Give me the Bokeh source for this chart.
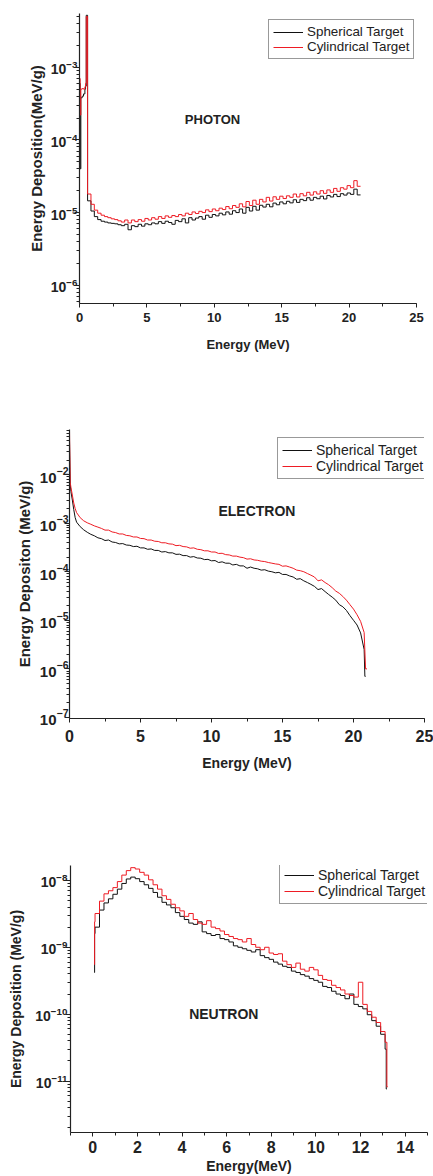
import numpy as np
from bokeh.plotting import figure
from bokeh.models import Range1d, SingleIntervalTicker, FixedTicker, LogTickFormatter, Label
from bokeh.embed import file_html
from bokeh.resources import INLINE

FONT = "Liberation Sans"
BLACK = "#111111"
RED = "#ee1c24"
SERIES = ["Spherical Target", "Cylindrical Target"]

# ---------------- PHOTON ----------------
ph_head_edges = [0.0, 0.05, 0.10, 0.20, 0.30, 0.40, 0.45, 0.50, 0.60]
ph_sph_head = [6.0e-4, 4.0e-5, 3.8e-4, 4.0e-4, 4.3e-4, 5.0e-4, 5.5e-4, 5.2e-3]
ph_cyl_head = [7.0e-4, 2.2e-4, 5.0e-4, 5.1e-4, 5.0e-4, 5.4e-4, 6.0e-4, 5.0e-3]
ph_grid_start, ph_grid_step = 0.60, 0.25
ph_sph_grid = [  # x1e-6
    14.5, 10.5, 8.8, 8.0, 7.6, 7.4, 7.2, 7.1, 7.0, 6.8,
    6.6, 6.9, 5.8, 6.6, 6.4, 6.9, 6.5, 7.0, 6.8, 7.2,
    7.0, 7.5, 7.1, 7.6, 7.3, 6.9, 7.8, 7.5, 8.2, 7.2,
    8.5, 7.9, 8.4, 8.8, 8.1, 9.2, 8.6, 9.4, 9.0, 9.8,
    9.3, 10.2, 9.5, 10.6, 10.0, 11.2, 9.8, 11.8, 10.5, 12.2,
    10.8, 12.6, 11.9, 13.0, 12.0, 13.5, 12.8, 14.0, 13.2, 14.3,
    13.6, 15.0, 13.8, 15.2, 14.6, 16.0, 14.8, 16.2, 15.5, 16.8,
    15.4, 17.2, 16.4, 17.8, 16.6, 18.2, 17.4, 18.6, 17.8, 21.0,
    17.5]
ph_cyl_grid = [  # x1e-6
    18.0, 13.0, 10.8, 9.8, 9.2, 8.8, 8.5, 8.2, 8.0, 7.7,
    7.4, 7.9, 7.2, 7.9, 7.5, 8.0, 7.6, 8.3, 7.9, 8.5,
    8.1, 8.8, 8.3, 9.0, 8.6, 9.1, 8.8, 9.4, 9.0, 9.8,
    9.4, 10.2, 9.7, 10.4, 10.0, 10.9, 10.3, 11.2, 10.6, 11.5,
    11.0, 12.1, 11.3, 12.5, 11.8, 13.2, 12.0, 14.2, 12.5, 14.8,
    13.0, 15.2, 14.0, 16.2, 14.4, 16.5, 15.2, 16.8, 15.6, 17.0,
    16.2, 18.0, 16.4, 18.2, 17.0, 19.0, 17.4, 19.3, 18.0, 20.0,
    18.4, 20.5, 19.0, 21.5, 19.6, 22.0, 21.0, 23.5, 22.0, 27.5,
    23.0]
ph_scale = 1e-6

# ---------------- ELECTRON ----------------
el_head_edges = [0.0, 0.05, 0.10, 0.20, 0.30, 0.40, 0.50]
el_sph_head = [5.0e-2, 6.5e-3, 4.5e-3, 3.0e-3, 1.9e-3, 1.3e-3]
el_cyl_head = [8.0e-2, 7.0e-3, 5.5e-3, 3.8e-3, 2.6e-3, 2.0e-3]
el_grid_start, el_grid_step = 0.50, 0.25
el_sph_grid = [  # x1e-4
    10.5, 8.5, 7.3, 6.5, 5.9, 5.5, 5.0, 4.8, 4.4, 4.5,
    4.1, 4.0, 3.75, 3.8, 3.55, 3.5, 3.3, 3.35, 3.1, 3.1,
    2.9, 2.95, 2.75, 2.75, 2.55, 2.6, 2.45, 2.45, 2.28, 2.3,
    2.15, 2.15, 2.0, 2.05, 1.92, 1.9, 1.78, 1.8, 1.68, 1.7,
    1.55, 1.6, 1.5, 1.5, 1.38, 1.42, 1.32, 1.32, 1.18, 1.25,
    1.18, 1.15, 1.08, 1.1, 1.03, 1.0, 0.95, 0.97, 0.88, 0.88,
    0.82, 0.78, 0.7, 0.72, 0.65, 0.6, 0.55, 0.5, 0.43, 0.45,
    0.39, 0.34, 0.30, 0.26, 0.21, 0.19, 0.16, 0.125, 0.10, 0.08,
    0.055]
el_cyl_grid = [  # x1e-4
    16.5, 13.0, 11.2, 10.2, 9.5, 8.8, 8.3, 7.8, 7.2, 7.2,
    6.6, 6.4, 6.0, 6.0, 5.6, 5.5, 5.2, 5.2, 4.85, 4.8,
    4.5, 4.5, 4.25, 4.2, 3.95, 3.95, 3.75, 3.7, 3.45, 3.5,
    3.3, 3.25, 3.05, 3.1, 2.9, 2.85, 2.7, 2.7, 2.55, 2.55,
    2.38, 2.4, 2.25, 2.22, 2.1, 2.1, 2.0, 1.95, 1.82, 1.85,
    1.75, 1.72, 1.65, 1.62, 1.55, 1.5, 1.45, 1.42, 1.3, 1.32,
    1.25, 1.18, 1.08, 1.05, 1.0, 0.92, 0.85, 0.78, 0.65, 0.68,
    0.6, 0.54, 0.47, 0.4, 0.36, 0.31, 0.26, 0.21, 0.17, 0.13,
    0.095]
el_scale = 1e-4
el_sph_tail_edges = [20.75, 20.80, 20.85]
el_sph_tail = [2.5e-6, 7.0e-7]
el_cyl_tail_edges = [20.75, 20.85, 20.95]
el_cyl_tail = [5.6e-6, 1.0e-6]

# ---------------- NEUTRON ----------------
ne_head_edges = [0.06, 0.08, 0.10]
ne_sph_head = [4.2e-10, 1.6e-9]
ne_cyl_head = [5.5e-10, 2.4e-9]
ne_grid_start, ne_grid_step = 0.10, 0.20
ne_sph_grid = [  # x1e-9
    2.0, 3.6, 4.6, 5.3, 6.2, 7.4, 9.0, 10.5, 11.2, 10.6,
    9.6, 8.6, 7.6, 6.6, 5.6, 4.7, 4.3, 3.9, 3.3, 2.9,
    2.6, 2.3, 2.2, 2.4, 1.7, 1.6, 1.5, 1.55, 1.35, 1.3,
    1.2, 1.05, 1.0, 0.95, 0.9, 0.85, 0.92, 0.75, 0.7, 0.66,
    0.6, 0.56, 0.52, 0.5, 0.44, 0.42, 0.39, 0.37, 0.34, 0.32,
    0.3, 0.26, 0.25, 0.22, 0.2, 0.19, 0.17, 0.2, 0.14, 0.13,
    0.12, 0.098, 0.08, 0.066, 0.05]
ne_cyl_grid = [  # x1e-9
    3.2, 4.9, 6.3, 7.0, 7.8, 9.6, 12.0, 14.0, 15.5, 14.8,
    13.2, 12.0, 10.2, 8.6, 7.4, 5.9, 5.2, 4.4, 3.9, 3.5,
    2.9, 3.2, 2.6, 2.3, 2.2, 2.5, 2.0, 1.9, 1.75, 1.55,
    1.45, 1.35, 1.3, 1.2, 1.35, 1.1, 1.0, 0.92, 1.0, 0.82,
    0.78, 0.8, 0.62, 0.55, 0.5, 0.58, 0.47, 0.44, 0.5, 0.46,
    0.38, 0.33, 0.32, 0.27, 0.25, 0.23, 0.2, 0.19, 0.18, 0.3,
    0.14, 0.11, 0.09, 0.075, 0.055]
ne_scale = 1e-9
ne_sph_tail_edges = [13.10, 13.15, 13.18]
ne_sph_tail = [3.0e-11, 7.6e-12]
ne_cyl_tail_edges = [13.10, 13.18, 13.22]
ne_cyl_tail = [3.8e-11, 8.2e-12]


def build(head_edges, head_vals, start, step, grid_vals, scale, tail_edges=None, tail_vals=None):
    lefts = list(head_edges[:-1])
    vals = list(head_vals)
    n = len(grid_vals)
    lefts += [start + step * i for i in range(n)]
    vals += [v * scale for v in grid_vals]
    right = start + step * n
    if tail_edges:
        lefts += list(tail_edges[:-1])
        vals += list(tail_vals)
        right = tail_edges[-1]
    xs = lefts + [right]
    ys = vals + [vals[-1]]
    return xs, ys


def log_ticks(lo_exp, hi_exp):
    major = [10.0 ** e for e in range(lo_exp, hi_exp + 1)]
    minor = [k * 10.0 ** e for e in range(lo_exp - 1, hi_exp + 1) for k in range(1, 10)]
    return major, minor


def make(cfg, series, draw="step"):
    p = figure(width=433, height=cfg["height"], output_backend="svg", toolbar_location=None,
               x_range=Range1d(*cfg["xr"]), y_range=Range1d(*cfg["yr"]), y_axis_type="log",
               min_border_left=cfg["b"][0], min_border_right=cfg["b"][1],
               min_border_top=cfg["b"][2], min_border_bottom=cfg["b"][3])
    p.xaxis.ticker = SingleIntervalTicker(interval=cfg["xint"], num_minor_ticks=2)
    major, minor = log_ticks(*cfg["yexp"])
    p.yaxis.ticker = FixedTicker(ticks=major, minor_ticks=minor)
    p.yaxis.formatter = LogTickFormatter()
    for ax in (p.xaxis[0], p.yaxis[0]):
        ax.axis_line_color = "#222222"
        ax.axis_line_width = 1.2
        ax.major_tick_line_color = "#222222"
        ax.minor_tick_line_color = "#222222"
        ax.major_tick_in = 0
        ax.major_tick_out = 5
        ax.minor_tick_in = 0
        ax.minor_tick_out = 3
        ax.major_label_text_font = FONT
        ax.major_label_text_font_style = "bold"
        ax.major_label_text_color = "#222222"
        ax.axis_label_text_font = FONT
        ax.axis_label_text_font_style = "bold"
        ax.axis_label_text_color = "#222222"
    p.xaxis.major_tick_out = 4
    p.xaxis.major_label_text_font_size = cfg["xfs"]
    p.yaxis.major_label_text_font_size = cfg["yfs"]
    p.xaxis.axis_label_text_font_size = cfg["xlfs"]
    p.yaxis.axis_label_text_font_size = cfg["ylfs"]
    p.xaxis.major_label_standoff = cfg["xstand"]
    p.yaxis.major_label_standoff = cfg["ystand"]
    p.xaxis.axis_label = cfg["xlabel"]
    p.yaxis.axis_label = cfg["ylabel"]
    p.xaxis.axis_label_standoff = cfg["xlstand"]
    p.yaxis.axis_label_standoff = cfg["ylstand"]
    p.grid.visible = False
    p.outline_line_color = None
    p.background_fill_color = "white"
    for (xs, ys), color, name in zip(series, [BLACK, RED], SERIES):
        if draw == "step":
            p.step(xs, ys, mode="after", line_color=color, line_width=1, legend_label=name)
        else:
            p.line(xs, ys, line_color=color, line_width=1, legend_label=name)
    lg = p.legend[0]
    lg.location = cfg["legloc"]
    lg.border_line_color = "#333333"
    lg.border_line_width = 1.5
    lg.background_fill_alpha = 1
    lg.label_text_font = FONT
    lg.label_text_font_size = cfg["legfs"]
    lg.label_text_color = "#222222"
    lg.glyph_width = 30
    lg.glyph_height = 14
    lg.label_height = 14
    lg.spacing = 0
    lg.padding = 4
    lg.margin = 0
    lg.label_standoff = 4
    p.add_layout(Label(x=cfg["tpos"][0], y=cfg["tpos"][1], text=cfg["text"],
                       text_align="center", text_baseline="middle",
                       text_font=FONT, text_font_style="bold", text_font_size=cfg["tfs"],
                       text_color="#222222"))
    return p


ph = [build(ph_head_edges, ph_sph_head, ph_grid_start, ph_grid_step, ph_sph_grid, ph_scale),
      build(ph_head_edges, ph_cyl_head, ph_grid_start, ph_grid_step, ph_cyl_grid, ph_scale)]
el = [build(el_head_edges, el_sph_head, el_grid_start, el_grid_step, el_sph_grid, el_scale,
            el_sph_tail_edges, el_sph_tail),
      build(el_head_edges, el_cyl_head, el_grid_start, el_grid_step, el_cyl_grid, el_scale,
            el_cyl_tail_edges, el_cyl_tail)]
ne = [build(ne_head_edges, ne_sph_head, ne_grid_start, ne_grid_step, ne_sph_grid, ne_scale,
            ne_sph_tail_edges, ne_sph_tail),
      build(ne_head_edges, ne_cyl_head, ne_grid_start, ne_grid_step, ne_cyl_grid, ne_scale,
            ne_cyl_tail_edges, ne_cyl_tail)]

cfg1 = dict(height=370, b=(79, 17, 13, 67), xr=(0, 25), yr=(5.6e-7, 5.5e-3), xint=5, yexp=(-6, -3),
            xlabel="Energy (MeV)", ylabel="Energy Deposition(MeV/g)",
            xfs="13px", yfs="14px", xlfs="13px", ylfs="15px",
            xstand=5, ystand=-3, xlstand=12, ylstand=3,
            legloc=(189, 244), legfs="13.4px",
            text="PHOTON", tpos=(9.87, 1.93e-4), tfs="13px")
cfg2 = dict(height=408, b=(69, 9, 59, 60), xr=(0, 25), yr=(9.5e-8, 8.5e-2), xint=5, yexp=(-7, -2),
            xlabel="Energy (MeV)", ylabel="Energy Depositon (MeV/g)",
            xfs="16px", yfs="15px", xlfs="14px", ylfs="15px",
            xstand=7, ystand=-4, xlstand=10, ylstand=4,
            legloc=(208, 239), legfs="14px",
            text="ELECTRON", tpos=(13.2, 1.8e-3), tfs="14px")
cfg3 = dict(height=398, b=(70, 6, 87, 42), xr=(-1, 15), yr=(1.7e-12, 1.67e-8), xint=2, yexp=(-11, -8),
            xlabel="Energy(MeV)", ylabel="Energy Deposition (MeV/g)",
            xfs="16px", yfs="14px", xlfs="14px", ylfs="14px",
            xstand=4, ystand=-2, xlstand=2, ylstand=8,
            legloc=(209, 228), legfs="14px",
            text="NEUTRON", tpos=(5.87, 1.02e-10), tfs="14px")

p1 = make(cfg1, ph, "step")
p2 = make(cfg2, el, "line")
p3 = make(cfg3, ne, "step")

open("out.html", "w").write(file_html([p1, p2, p3], INLINE))
